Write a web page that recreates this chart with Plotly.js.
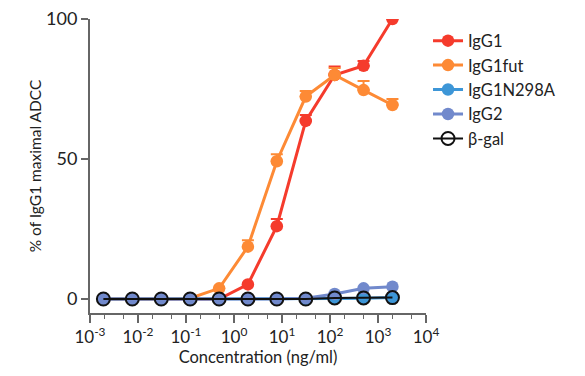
<!DOCTYPE html>
<html><head><meta charset="utf-8">
<script src="https://cdn.plot.ly/plotly-3.0.1.min.js"></script>
<style>html,body{margin:0;padding:0;background:#fff}#chart{width:585px;height:376px}</style>
</head><body><div id="chart"></div>
<script>
const conc = [0.0019, 0.0076, 0.0305, 0.122, 0.49, 1.95, 7.8, 31.25, 125, 500, 2000];
const seriesNames = ['IgG1', 'IgG1fut', 'IgG1N298A', 'IgG2', 'β-gal'];
const igg1 = [0, 0, 0, 0, 0, 5.2, 26, 63.6, 80, 83.3, 100];
const igg1Err = [0, 0, 0, 0, 0, 0, 2.6, 2.1, 3, 1.7, 0];
const igg1fut = [0, 0, 0, 0.3, 3.8, 18.7, 49.2, 72.3, 80, 74.6, 69.3];
const igg1futErr = [0, 0, 0, 0, 0, 2.3, 2.5, 2, 2.5, 3.3, 2.1];
const igg1n298a = [0, 0, 0, 0, 0, 0, 0, 0, 0.2, 0.3, 0.5];
const igg2 = [0, 0, 0, 0, 0, 0, 0, 0.3, 1.8, 3.8, 4.4];
const bgal = [0, 0, 0, 0, 0, 0, 0, 0, 0.4, 0.4, 0.5];
const xTickVals = [0.001, 0.01, 0.1, 1, 10, 100, 1000, 10000];
const xTickText = ['10<sup>-3</sup>', '10<sup>-2</sup>', '10<sup>-1</sup>', '10<sup>0</sup>', '10<sup>1</sup>', '10<sup>2</sup>', '10<sup>3</sup>', '10<sup>4</sup>'];
const yTickVals = [0, 50, 100];

const colors = ['#f53b2c', '#fd8a35', '#3d96d7', '#7189cc', '#111111'];
function tr(y, i, err) {
  const t = {x: conc, y: y, name: seriesNames[i], type: 'scatter', mode: 'lines+markers',
    line: {color: colors[i], width: 3}, marker: {color: colors[i], size: 12.5, symbol: 'circle'},
    legendrank: i + 1};
  if (err) t.error_y = {type: 'data', array: err, arrayminus: err.map(() => 0), symmetric: false,
    color: colors[i], thickness: 2, width: 6};
  return t;
}
const data = [
  tr(igg1, 0, igg1Err),
  tr(igg1fut, 1, igg1futErr),
  tr(igg1n298a, 2),
  tr(igg2, 3),
  {x: conc, y: bgal, name: seriesNames[4], type: 'scatter', mode: 'lines+markers', legendrank: 5,
   line: {color: '#111', width: 2}, marker: {color: '#111', size: 13, symbol: 'circle-open', line: {width: 2}}}
];

const layout = {
  width: 585, height: 376,
  margin: {l: 90, r: 159, t: 19, b: 63},
  paper_bgcolor: '#fff', plot_bgcolor: '#fff',
  font: {family: 'Lato, sans-serif', color: '#222'},
  showlegend: true,
  legend: {x: 1.006, y: 0.985, xanchor: 'left', yanchor: 'top', font: {size: 16.5, color: '#222'},
    traceorder: 'normal', bgcolor: 'rgba(0,0,0,0)'},
  xaxis: {type: 'log', range: [-3, 4], tickvals: xTickVals, ticktext: xTickText,
    ticks: 'outside', ticklen: 8, tickwidth: 2, tickcolor: '#666', showgrid: false, zeroline: false,
    showline: true, linecolor: '#666', linewidth: 2, tickfont: {size: 17, color: '#222'},
    minor: {ticks: 'outside', ticklen: 4, tickwidth: 1.5, tickcolor: '#666', showgrid: false},
    title: {text: 'Concentration (ng/ml)', font: {size: 16.5, color: '#222'}, standoff: 2}},
  yaxis: {range: [-5, 100], tickvals: yTickVals, ticks: 'outside', ticklen: 7, tickwidth: 2,
    tickcolor: '#666', showgrid: false, zeroline: false, showline: true, linecolor: '#666', linewidth: 2,
    tickfont: {size: 18, color: '#222'},
    title: {text: '% of IgG1 maximal ADCC', font: {size: 15.5, color: '#222'}, standoff: 1}}
};
Plotly.newPlot('chart', data, layout, {displayModeBar: false, staticPlot: true});
</script></body></html>
